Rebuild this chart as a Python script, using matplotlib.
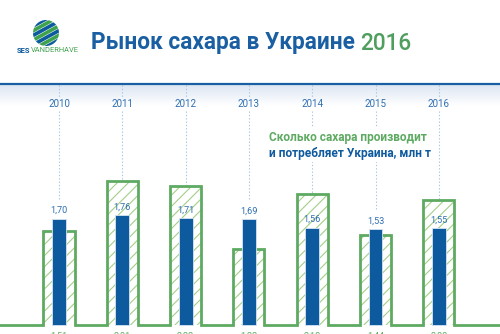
import numpy as np
import matplotlib.pyplot as plt
from matplotlib.patches import Circle
from matplotlib.lines import Line2D

years = ['2010', '2011', '2012', '2013', '2014', '2015', '2016']
consumption = [1.70, 1.76, 1.71, 1.69, 1.56, 1.53, 1.55]   # потребление, млн т
production = [1.51, 2.31, 2.22, 1.22, 2.10, 1.44, 2.00]    # производство, млн т

BLUE = '#0d5a9e'
TITLE_BLUE = '#1b5fa3'
LABEL_BLUE = '#2f6fb0'
GREEN = '#5eaa62'
HATCH_GREEN = '#a3cf88'
DASH = '#a7c6e4'

plt.rcParams['font.family'] = ['Roboto', 'DejaVu Sans']
plt.rcParams['hatch.linewidth'] = 0.8

W, H = 500, 334
SCALE = 62.5          # px per 1 млн т
BASE = 325            # baseline, px from top
STEP = 63.3           # px between years
X0 = 59               # first year centre, px


def fx(p):
    return p / W


def fy(p):
    return 1 - p / H


def yd(p):
    # pixel row -> data value in the main axes
    return (BASE - p) / SCALE


fig = plt.figure(figsize=(W / 100, H / 100), dpi=100)

# light gradient under the top rule
gax = fig.add_axes([0, fy(106), 1, 22 / H])
grad = np.linspace(0, 1, 64).reshape(-1, 1)
top_rgb = np.array([0.86, 0.90, 0.95])
img = top_rgb * (1 - grad[..., None]) + np.ones(3) * grad[..., None]
gax.imshow(img, aspect='auto', extent=[0, 1, 0, 1])
gax.axis('off')
fig.add_artist(Line2D([0, 1], [fy(83.5)] * 2, color=TITLE_BLUE, lw=1.6))

ax = fig.add_axes([0, 0, 1, 1 - 83 / H])
ax.axis('off')
ax.set_xlim(-X0 / STEP, (W - X0) / STEP)
ax.set_ylim(yd(334), yd(83))

x = np.arange(len(years))
gw, bw = 0.49, 0.22

# production: hatched bars with one green outline running along the baseline
ax.bar(x, production, width=gw, color='white', edgecolor=HATCH_GREEN,
       hatch='///', linewidth=0, zorder=2)
xs, ys = [ax.get_xlim()[0]], [0]
for xi, p in zip(x, production):
    xs += [xi - gw / 2, xi - gw / 2, xi + gw / 2, xi + gw / 2]
    ys += [0, p, p, 0]
xs.append(ax.get_xlim()[1])
ys.append(0)
ax.plot(xs, ys, color=GREEN, lw=2, solid_joinstyle='miter', zorder=3)

# consumption
ax.bar(x, consumption, width=bw, color=BLUE, edgecolor='#d6e4f2',
       linewidth=0.6, zorder=4)

for xi, c, p in zip(x, consumption, production):
    ax.text(xi, c + 0.06, f'{c:.2f}'.replace('.', ','), ha='center',
            va='bottom', fontsize=6.6, color=LABEL_BLUE, zorder=5)
    ax.text(xi, yd(331.5), f'{p:.2f}'.replace('.', ','), ha='center',
            va='top', fontsize=6.6, color=GREEN, zorder=5)
    # dotted guides: above and below the year label
    ax.plot([xi, xi], [yd(85), yd(97)], color=DASH, lw=0.8,
            ls=(0, (1.2, 1.8)), zorder=1)
    end = max(p, c + 0.30)
    ax.plot([xi, xi], [yd(111), end], color=DASH, lw=0.8,
            ls=(0, (1.2, 1.8)), zorder=1)
    fig.text(fx(X0 + STEP * xi), fy(104), years[xi], ha='center',
             va='center', fontsize=7, color=LABEL_BLUE)

# legend text
box = dict(facecolor='white', edgecolor='none', pad=1.5)
fig.text(fx(269), fy(137), 'Сколько сахара производит', ha='left',
         va='center', fontsize=8.6, fontweight='bold', color=GREEN,
         bbox=box, zorder=6)
fig.text(fx(269), fy(153), 'и потребляет Украина, млн т', ha='left',
         va='center', fontsize=8.6, fontweight='bold', color=BLUE,
         bbox=box, zorder=6)

# title
t1 = fig.text(fx(91), fy(43), 'Рынок сахара в Украине ', ha='left',
              va='center', fontsize=16.3, fontweight='bold', color=TITLE_BLUE)
fig.canvas.draw()
bb = t1.get_window_extent()
fig.text(bb.x1 / W, fy(43), '2016', ha='left', va='center', fontsize=16.3,
         fontweight='medium', color='#4f9e5e')

# logo: striped globe
lax = fig.add_axes([fx(33), fy(46), 26 / W, 26 / H])
lax.set_xlim(-1, 1)
lax.set_ylim(-1, 1)
lax.set_aspect('equal')
lax.axis('off')
clip = Circle((0, 0), 1, transform=lax.transData)
gx = np.linspace(-1.2, 1.2, 10)
for k in range(-5, 6):
    ln, = lax.plot(gx, 0.55 * gx + k * 0.36, lw=2.6,
                   color=BLUE if k % 2 else '#3fa34d', solid_capstyle='butt')
    ln.set_clip_path(clip)

s1 = fig.text(fx(17), fy(51), 'SES', ha='left', va='center', fontsize=5.4,
              fontweight='bold', color=BLUE)
fig.canvas.draw()
bb = s1.get_window_extent()
fig.text(bb.x1 / W, fy(51), 'VANDERHAVE', ha='left', va='center',
         fontsize=5.4, color='#3fa34d')

fig.savefig('out.png', dpi=100)
